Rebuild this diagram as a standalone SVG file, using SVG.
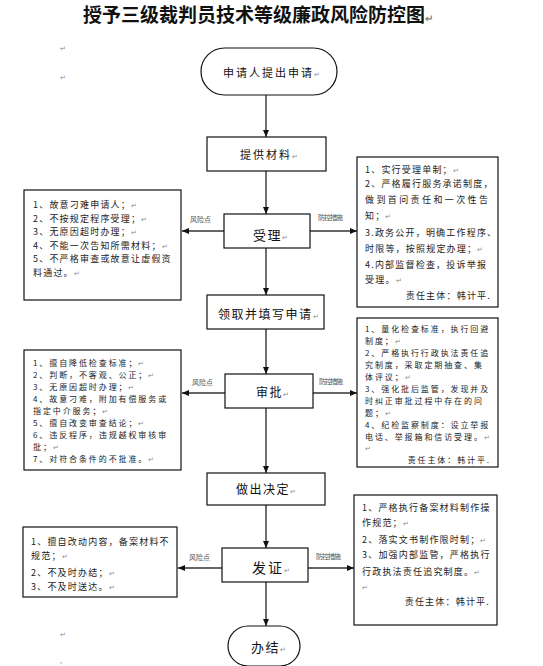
<svg xmlns="http://www.w3.org/2000/svg" width="543" height="666" viewBox="0 0 543 666">
<style>
  text { font-family: "Noto Sans CJK SC", "Noto Sans", sans-serif; fill: #111; }
  .title { font-size: 19px; font-weight: bold; }
  .box { fill: #fff; stroke: #111; stroke-width: 1.2; }
  .ln { stroke: #333; stroke-width: 1.4; fill: none; }
  .t { font-size: 9px; letter-spacing: 1.2px; fill: #222; }
  .t2 { font-size: 8px; letter-spacing: 1.9px; fill: #222; }
  .lab { font-size: 11px; letter-spacing: 2px; }
  .lab2 { font-size: 13px; letter-spacing: 1.5px; }
  .small { font-size: 7px; fill: #555; }
  .pm { fill: #888; font-size: 7px; letter-spacing: 0; }
</style>
<defs>
  <marker id="ah" markerWidth="8" markerHeight="8" refX="7" refY="4" orient="auto" markerUnits="userSpaceOnUse">
    <path d="M0,1 L7,4 L0,7 Z" fill="#111"/>
  </marker>
</defs>

<text class="title" x="258" y="22" text-anchor="middle">授予三级裁判员技术等级廉政风险防控图<tspan class="pm" style="font-size:10px">↵</tspan></text>
<text class="pm" x="60" y="51">↵</text>
<text class="pm" x="60" y="80">↵</text>
<text class="pm" x="60" y="637">↵</text>
<text class="pm" x="60" y="663">,</text>

<g id="connectors">
  <line class="ln" x1="266" y1="95" x2="266" y2="137" marker-end="url(#ah)"/>
  <line class="ln" x1="266" y1="171" x2="266" y2="214" marker-end="url(#ah)"/>
  <line class="ln" x1="266" y1="248" x2="266" y2="295" marker-end="url(#ah)"/>
  <line class="ln" x1="266" y1="329" x2="266" y2="374" marker-end="url(#ah)"/>
  <line class="ln" x1="266" y1="408" x2="266" y2="473" marker-end="url(#ah)"/>
  <line class="ln" x1="266" y1="505" x2="266" y2="548" marker-end="url(#ah)"/>
  <line class="ln" x1="266" y1="582" x2="266" y2="626" marker-end="url(#ah)"/>
  <line class="ln" x1="224" y1="231" x2="182" y2="231" marker-end="url(#ah)"/>
  <line class="ln" x1="310" y1="231" x2="357" y2="231" marker-end="url(#ah)"/>
  <line class="ln" x1="225" y1="393" x2="182" y2="393" marker-end="url(#ah)"/>
  <line class="ln" x1="313" y1="393" x2="357" y2="393" marker-end="url(#ah)"/>
  <line class="ln" x1="222" y1="568" x2="178" y2="568" marker-end="url(#ah)"/>
  <line class="ln" x1="308" y1="568" x2="354" y2="568" marker-end="url(#ah)"/>
  <text class="small" x="190" y="222">风险点</text>
  <text class="small" x="318" y="220" textLength="25">防控措施</text>
  <text class="small" x="192" y="385">风险点</text>
  <text class="small" x="319" y="384" textLength="24">防控措施</text>
  <text class="small" x="189" y="560">风险点</text>
  <text class="small" x="316" y="559" textLength="25">防控措施</text>
</g>

<g id="start">
  <rect class="box" x="201" y="48" width="136" height="47" rx="23.5"/>
  <text class="lab" x="223" y="77">申请人提出申请<tspan class="pm">↵</tspan></text>
</g>
<g id="provide">
  <rect class="box" x="207" y="137" width="119" height="34"/>
  <text class="lab" x="240" y="159">提供材料<tspan class="pm">↵</tspan></text>
</g>
<g id="accept">
  <rect class="box" x="224" y="214" width="86" height="34"/>
  <text class="lab2" x="253" y="240">受理<tspan class="pm">↵</tspan></text>
</g>
<g id="fill">
  <rect class="box" x="207" y="295" width="117" height="34"/>
  <text class="lab" x="218" y="319" style="font-size:12px;letter-spacing:1.5px">领取并填写申请<tspan class="pm">↵</tspan></text>
</g>
<g id="approve">
  <rect class="box" x="225" y="374" width="88" height="34"/>
  <text class="lab2" x="256" y="397" style="font-size:12px">审批<tspan class="pm">↵</tspan></text>
</g>
<g id="decide">
  <rect class="box" x="207" y="473" width="118" height="32"/>
  <text class="lab" x="236" y="494" style="font-size:12px;letter-spacing:1.5px">做出决定<tspan class="pm">↵</tspan></text>
</g>
<g id="issue">
  <rect class="box" x="222" y="548" width="86" height="34"/>
  <text class="lab2" x="252" y="573" style="font-size:14px;letter-spacing:2px">发证<tspan class="pm">↵</tspan></text>
</g>
<g id="end">
  <rect class="box" x="228" y="626" width="72" height="40" rx="20"/>
  <text class="lab2" x="251" y="652">办结<tspan class="pm">↵</tspan></text>
</g>

<g id="risk1">
  <rect class="box" x="24" y="190" width="157" height="110"/>
  <text class="t" x="33" y="208">1、故意刁难申请人；<tspan class="pm">↵</tspan></text>
  <text class="t" x="33" y="222">2、不按规定程序受理；<tspan class="pm">↵</tspan></text>
  <text class="t" x="33" y="235">3、无原因超时办理；<tspan class="pm">↵</tspan></text>
  <text class="t" x="33" y="249">4、不能一次告知所需材料；<tspan class="pm">↵</tspan></text>
  <text class="t" x="33" y="262">5、不严格审查或故意让虚假资</text>
  <text class="t" x="33" y="276">料通过。<tspan class="pm">↵</tspan></text>
</g>
<g id="control1">
  <rect class="box" x="357" y="157" width="141" height="150"/>
  <text class="t" x="365" y="173">1、实行受理单制；<tspan class="pm">↵</tspan></text>
  <text class="t" x="365" y="187">2、严格履行服务承诺制度，</text>
  <text class="t" x="365" y="203" style="letter-spacing:2.4px">做到首问责任和一次性告</text>
  <text class="t" x="365" y="219">知；<tspan class="pm">↵</tspan></text>
  <text class="t" x="365" y="236">3.政务公开，明确工作程序、</text>
  <text class="t" x="365" y="252">时限等，按照规定办理；<tspan class="pm">↵</tspan></text>
  <text class="t" x="365" y="268">4.内部监督检查，投诉举报</text>
  <text class="t" x="365" y="283">受理。<tspan class="pm">↵</tspan></text>
  <text class="t" x="491" y="299" text-anchor="end">责任主体：韩计平.</text>
</g>

<g id="risk2">
  <rect class="box" x="24" y="350" width="157" height="120"/>
  <text class="t2" x="33" y="366">1、擅自降低检查标准；<tspan class="pm">↵</tspan></text>
  <text class="t2" x="33" y="378">2、判断，不客观、公正；<tspan class="pm">↵</tspan></text>
  <text class="t2" x="33" y="390">3、无原因超时办理；<tspan class="pm">↵</tspan></text>
  <text class="t2" x="33" y="402">4、故意刁难，附加有偿服务或</text>
  <text class="t2" x="33" y="414">指定中介服务；<tspan class="pm">↵</tspan></text>
  <text class="t2" x="33" y="426">5、擅自改变审查结论；<tspan class="pm">↵</tspan></text>
  <text class="t2" x="33" y="438">6、违反程序，违规越权审核审</text>
  <text class="t2" x="33" y="450">批；<tspan class="pm">↵</tspan></text>
  <text class="t2" x="33" y="462">7、对符合条件的不批准。<tspan class="pm">↵</tspan></text>
</g>
<g id="control2">
  <rect class="box" x="357" y="318" width="141" height="149"/>
  <text class="t2" x="365" y="332">1、量化检查标准，执行回避</text>
  <text class="t2" x="365" y="344">制度；<tspan class="pm">↵</tspan></text>
  <text class="t2" x="365" y="356">2、严格执行行政执法责任追</text>
  <text class="t2" x="365" y="368">究制度，采取定期抽查、集</text>
  <text class="t2" x="365" y="380">体评议；<tspan class="pm">↵</tspan></text>
  <text class="t2" x="365" y="392">3、强化批后监管，发现并及</text>
  <text class="t2" x="365" y="404">时纠正审批过程中存在的问</text>
  <text class="t2" x="365" y="416">题；<tspan class="pm">↵</tspan></text>
  <text class="t2" x="365" y="428">4、纪检监察制度：设立举报</text>
  <text class="t2" x="365" y="440">电话、举报箱和信访受理。<tspan class="pm">↵</tspan></text>
  <text class="pm" x="365" y="451">↵</text>
  <text class="t2" x="491" y="463" text-anchor="end">责任主体：韩计平.</text>
</g>

<g id="risk3">
  <rect class="box" x="23" y="527" width="154" height="70"/>
  <text class="t" x="31" y="545">1、擅自改动内容，备案材料不</text>
  <text class="t" x="31" y="559">规范；<tspan class="pm">↵</tspan></text>
  <text class="t" x="31" y="576">2、不及时办结；<tspan class="pm">↵</tspan></text>
  <text class="t" x="31" y="590">3、不及时送达。<tspan class="pm">↵</tspan></text>
</g>
<g id="control3">
  <rect class="box" x="354" y="495" width="143" height="130"/>
  <text class="t" x="362" y="511">1、严格执行备案材料制作操</text>
  <text class="t" x="362" y="526">作规范；<tspan class="pm">↵</tspan></text>
  <text class="t" x="362" y="543">2、落实文书制作限时制；<tspan class="pm">↵</tspan></text>
  <text class="t" x="362" y="558">3、加强内部监管，严格执行</text>
  <text class="t" x="362" y="575">行政执法责任追究制度。<tspan class="pm">↵</tspan></text>
  <text class="pm" x="362" y="590">↵</text>
  <text class="t" x="490" y="605" text-anchor="end">责任主体：韩计平.</text>
</g>
</svg>
